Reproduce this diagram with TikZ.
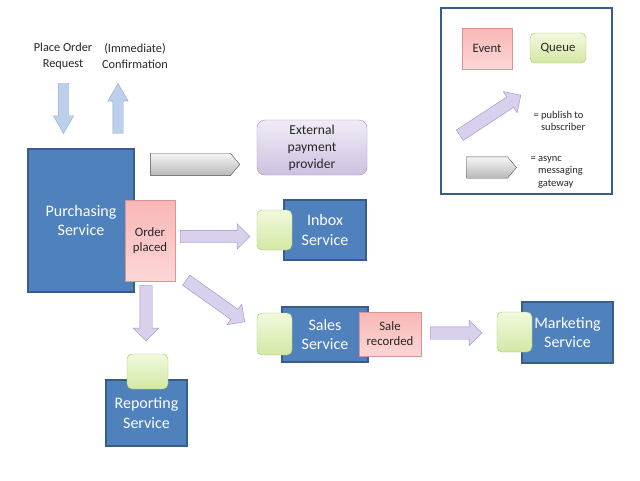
\documentclass[tikz,border=0pt]{standalone}
\usepackage{fontspec}
\setmainfont{Carlito}
\usetikzlibrary{shapes.arrows,calc,positioning}

\definecolor{svcblue}{HTML}{4F81BD}
\definecolor{svcline}{HTML}{385D8A}
\definecolor{evttop}{HTML}{F8B7B7}
\definecolor{evtbot}{HTML}{FDD6D6}
\definecolor{evtline}{HTML}{D99594}
\definecolor{quetop}{HTML}{F1F9DD}
\definecolor{quebot}{HTML}{D3E8A4}
\definecolor{queline}{HTML}{A3C16A}
\definecolor{exttop}{HTML}{F1ECF6}
\definecolor{extbot}{HTML}{CDC1E0}
\definecolor{extline}{HTML}{A08CC2}
\definecolor{pubfill}{HTML}{D8D0EC}
\definecolor{publine}{HTML}{9C8CC4}
\definecolor{reqfill}{HTML}{BDD0EA}
\definecolor{reqline}{HTML}{8EAAD6}
\definecolor{gatetop}{HTML}{F6F6F6}
\definecolor{gatebot}{HTML}{B8B8B8}
\definecolor{gateline}{HTML}{4D4D4D}
\definecolor{txtgray}{HTML}{262626}

% block arrow laid between two points
\newcommand{\blockarr}[3]{%
  \path let \p1=(#2), \p2=(#3),
    \n1={veclen(\x2-\x1,\y2-\y1)}, \n2={atan2(\y2-\y1,\x2-\x1)} in
    (#2) node[#1,rotate=\n2,minimum height=\n1,outer sep=0pt,anchor=tail] {};}

\begin{document}
\begin{tikzpicture}[
x=1pt,y=-1pt,
svc/.style={rectangle,draw=svcline,line width=1.1pt,fill=svcblue,text=white,align=center,font=\fontsize{16}{19.5}\selectfont},
evt/.style={rectangle,draw=evtline,top color=evttop,bottom color=evtbot,text=txtgray,align=center,font=\fontsize{12.8}{15}\selectfont},
que/.style={rectangle,rounded corners=5pt,draw=queline,top color=quetop,bottom color=quebot,text=txtgray,font=\fontsize{12.8}{15}\selectfont},
note/.style={align=center,text=txtgray,font=\fontsize{12.3}{15.5}\selectfont},
keytext/.style={align=left,anchor=west,text=txtgray,font=\fontsize{10.5}{12.5}\selectfont},
pub/.style={single arrow,draw=publine,fill=pubfill,inner xsep=0pt,inner ysep=6pt,single arrow head extend=6.5pt,single arrow head indent=0pt},
req/.style={single arrow,draw=reqline,fill=reqfill,inner xsep=0pt,inner ysep=5pt,single arrow head extend=5pt,single arrow head indent=0pt,single arrow tip angle=60},
gate/.style={single arrow,draw=gateline,top color=gatetop,bottom color=gatebot,inner xsep=0pt,inner ysep=11pt,single arrow head extend=0pt,single arrow head indent=0pt,single arrow tip angle=100}
]
\useasboundingbox (0,0) rectangle (640,480);

% services
\node[svc,minimum width=106,minimum height=143] (purch) at (81,220.5) {Purchasing\\Service};
\node[evt,minimum width=50,minimum height=81] (ordpl) at (150,240.5) {Order\\placed};
\node[note] (reqtxt) at (63,56) {Place Order\\Request};
\node[note] (conftxt) at (135,56) {(Immediate)\\Confirmation};

\node[rectangle,rounded corners=8pt,draw=extline,top color=exttop,bottom color=extbot,text=txtgray,align=center,
  font=\fontsize{13.6}{17}\selectfont,minimum width=110,minimum height=55] (ext) at (312,147.5) {External\\payment\\provider};

\node[svc,minimum width=82,minimum height=60] (inbox) at (325,230) {Inbox\\Service};
\node[que,minimum width=35,minimum height=40] (inq) at (274.5,230) {};

\node[svc,minimum width=86,minimum height=55] (sales) at (325,334.5) {Sales\\Service};
\node[que,minimum width=35,minimum height=42] (salq) at (274.5,334) {};
\node[evt,minimum width=62,minimum height=44] (salerec) at (390,334) {Sale\\recorded};

\node[svc,minimum width=91,minimum height=61] (mkt) at (567.5,332.5) {Marketing\\Service};
\node[que,minimum width=35,minimum height=40] (mktq) at (514.5,332) {};

\node[svc,minimum width=81,minimum height=66] (report) at (146.5,413) {Reporting\\Service};
\node[que,minimum width=41,minimum height=35] (repq) at (147.5,371.5) {};

% arrow ends
\coordinate (rq1) at ($(purch.north)+(-17.5,-65)$);
\coordinate (rq2) at ($(purch.north)+(-17.5,-15)$);
\coordinate (cf1) at ($(purch.north)+(37,-15)$);
\coordinate (cf2) at ($(purch.north)+(37,-65)$);
\coordinate (gw1) at ($(purch.north east)+(16,16)$);
\coordinate (gw2) at ($(ext.west |- gw1)+(-17,0)$);
\coordinate (ib1) at ($(ordpl.east)+(5,-4)$);
\coordinate (ib2) at ($(inq.west |- ib1)+(-7,0)$);
\coordinate (sl1) at ($(ordpl.south east)+(11,-1)$);
\coordinate (sl2) at ($(salq.north west)+(-12,9)$);
\coordinate (rp1) at ($(ordpl.south)+(-4,4)$);
\coordinate (rp2) at ($(rp1 |- repq.north)+(0,-13)$);
\coordinate (mk1) at ($(salerec.east)+(9,-1)$);
\coordinate (mk2) at ($(mktq.west |- mk1)+(-15,0)$);

\blockarr{req}{rq1}{rq2}
\blockarr{req}{cf1}{cf2}
\blockarr{gate}{gw1}{gw2}
\blockarr{pub}{ib1}{ib2}
\blockarr{pub}{sl1}{sl2}
\blockarr{pub}{rp1}{rp2}
\blockarr{pub}{mk1}{mk2}

% key
\node[draw=svcline,line width=1.6pt,minimum width=171,minimum height=186] (keybox) at (526.5,101) {};
\node[evt,minimum width=50,minimum height=41] (keyevt) at (487,48.5) {Event};
\node[que,minimum width=56,minimum height=30] (keyq) at (558,48) {Queue};
\coordinate (kp1) at ($(keyevt.south west)+(-2,66)$);
\coordinate (kp2) at ($(keyq.south west)+(-9,32)$);
\blockarr{pub}{kp1}{kp2}
\node[keytext] (keypub) at (530,121) {= publish to\\\hphantom{= }subscriber};
\node[gate,inner ysep=10.5pt,minimum height=50] (keygate) at (487,167.5) {};
\node[keytext] (keygw) at (527,172) {= async\\\hphantom{= }messaging\\\hphantom{= }gateway};
\end{tikzpicture}
\end{document}
